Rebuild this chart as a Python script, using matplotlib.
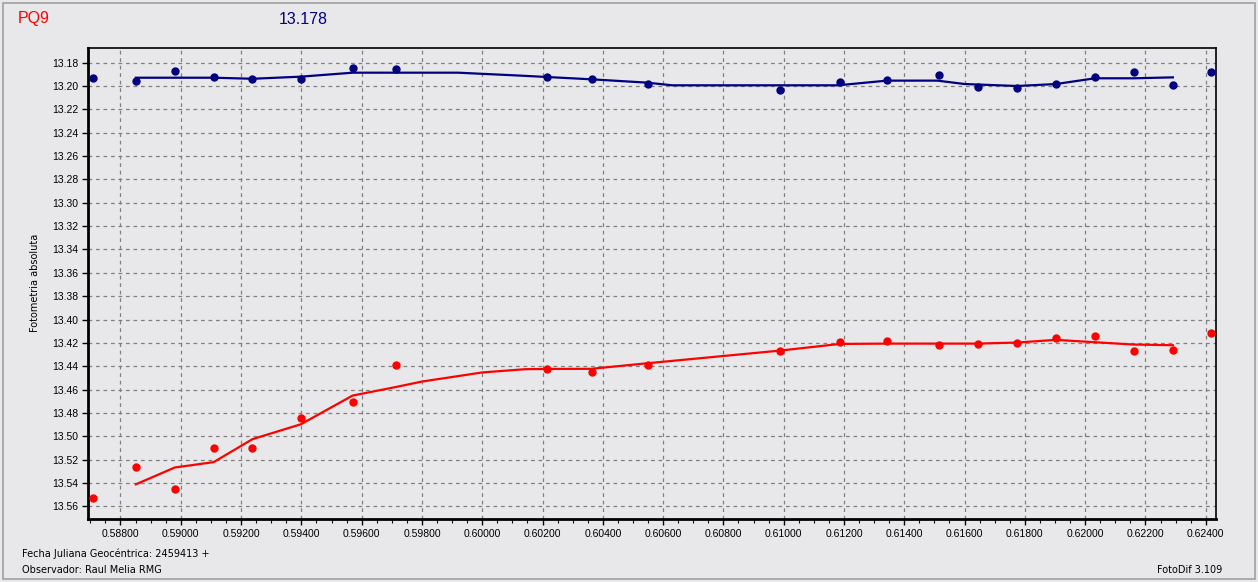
import numpy as np
import matplotlib
matplotlib.use("Agg")
import matplotlib.pyplot as plt
from matplotlib.patches import Rectangle
from matplotlib.ticker import MultipleLocator, FormatStrFormatter

# Observation times (JD - 2459413) shared by both stars
jd = [0.587083, 0.588508, 0.589801, 0.591094, 0.592376, 0.593978, 0.595702,
      0.597127, 0.602145, 0.603630, 0.605485, 0.609868, 0.611858, 0.613428,
      0.615142, 0.616440, 0.617735, 0.619035, 0.620315, 0.621615, 0.622915,
      0.624172]

# comparison star (blue) magnitudes
mag_blue = [13.1935, 13.1958, 13.1875, 13.1923, 13.1943, 13.1943, 13.1849,
            13.1857, 13.1920, 13.1937, 13.1986, 13.2032, 13.1968, 13.1951,
            13.1907, 13.2006, 13.2014, 13.1986, 13.1925, 13.1881, 13.1994,
            13.1881]

# target (red) magnitudes
mag_red = [13.5528, 13.5259, 13.5448, 13.5104, 13.5104, 13.4846, 13.4708,
           13.4390, 13.4423, 13.4452, 13.4386, 13.4272, 13.4194, 13.4186,
           13.4214, 13.4206, 13.4203, 13.4159, 13.4142, 13.4272, 13.4258,
           13.4119]

# smoothed curves as drawn
blue_fit_x = [0.58851, 0.58980, 0.59109, 0.59238, 0.59398, 0.59570, 0.59713,
              0.59920, 0.60126, 0.60215, 0.60364, 0.60546, 0.60630, 0.61180,
              0.61342, 0.61510, 0.61600, 0.61774, 0.61904, 0.62032, 0.62162,
              0.62291]
blue_fit_y = [13.1929, 13.1929, 13.1929, 13.1938, 13.1920, 13.1886, 13.1886,
              13.1886, 13.1911, 13.1923, 13.1943, 13.1971, 13.1994, 13.1994,
              13.1954, 13.1954, 13.1983, 13.2000, 13.1983, 13.1934, 13.1934,
              13.1926]

red_fit_x = [0.58851, 0.58980, 0.59109, 0.59238, 0.59398, 0.59570, 0.59713,
             0.59800, 0.60000, 0.60143, 0.60214, 0.60361, 0.60549, 0.60987,
             0.61186, 0.61343, 0.61515, 0.61643, 0.61773, 0.61903, 0.62031,
             0.62161, 0.62291]
red_fit_y = [13.5411, 13.5267, 13.5221, 13.5024, 13.4897, 13.4651, 13.4578,
             13.4531, 13.4453, 13.4425, 13.4423, 13.4422, 13.4374, 13.4266,
             13.4209, 13.4206, 13.4206, 13.4206, 13.4197, 13.4174, 13.4194,
             13.4214, 13.4220]

W, H = 1258, 582
bg = '#e8e8ea'
navy = '#000080'
red = '#ff0000'

fig = plt.figure(figsize=(W / 100, H / 100), dpi=100, facecolor=bg)
ax = fig.add_axes([88 / W, 1 - 519 / H, (1216 - 88) / W, (519 - 47.7) / H])
ax.set_facecolor(bg)

# outer frame
fig.patches.append(Rectangle((2.5 / W, 3 / H), (1255 - 2.5) / W, (579 - 3) / H,
                             transform=fig.transFigure, fill=False,
                             edgecolor='#a0a0a0', linewidth=1.2))

ax.plot(blue_fit_x, blue_fit_y, color=navy, lw=1.6, zorder=3)
ax.plot(red_fit_x, red_fit_y, color=red, lw=1.6, zorder=3)
ax.plot(jd, mag_blue, 'o', color=navy, ms=5, zorder=4)
ax.plot(jd, mag_red, 'o', color=red, ms=5, zorder=4)

ax.set_xlim(0.586922, 0.624341)
ax.set_ylim(13.5708, 13.1672)

ax.xaxis.set_major_locator(MultipleLocator(0.002))
ax.xaxis.set_minor_locator(MultipleLocator(0.0005))
ax.xaxis.set_major_formatter(FormatStrFormatter('%.5f'))
ax.yaxis.set_major_locator(MultipleLocator(0.02))
ax.yaxis.set_major_formatter(FormatStrFormatter('%.2f'))

ax.grid(True, which='major', color='#808080', linestyle=(0, (3, 3)), lw=0.9)
ax.tick_params(axis='both', which='major', direction='out', length=4, width=1,
               labelsize=7.5, pad=3)
ax.tick_params(axis='x', which='minor', direction='out', length=3, width=0.8)
for lab in ax.get_xticklabels() + ax.get_yticklabels():
    lab.set_fontfamily('Liberation Sans')

for side in ['left', 'bottom']:
    ax.spines[side].set_linewidth(2)
for side in ['top', 'right']:
    ax.spines[side].set_linewidth(1.2)

fig.text(88 / W - 0.0, 0, '')
fig.text(35 / W, 1 - 283 / H, 'Fotometria absoluta', rotation=90,
         ha='center', va='center', fontsize=7, fontfamily='DejaVu Sans')

fig.text(18 / W, 1 - 19 / H, 'PQ9', color=red, fontsize=11.5,
         fontfamily='Liberation Sans', ha='left', va='center')
fig.text(279 / W, 1 - 19 / H, '13.178', color=navy, fontsize=11.5,
         fontfamily='Liberation Sans', ha='left', va='center')

fig.text(22 / W, 1 - 554 / H, 'Fecha Juliana Geocéntrica: 2459413 +',
         fontsize=7, fontfamily='DejaVu Sans', ha='left', va='center')
fig.text(22 / W, 1 - 570 / H, 'Observador: Raul Melia RMG',
         fontsize=7, fontfamily='DejaVu Sans', ha='left', va='center')
fig.text(1222 / W, 1 - 570 / H, 'FotoDif 3.109',
         fontsize=7, fontfamily='DejaVu Sans', ha='right', va='center')

fig.savefig('out.png', dpi=100, facecolor=bg)
